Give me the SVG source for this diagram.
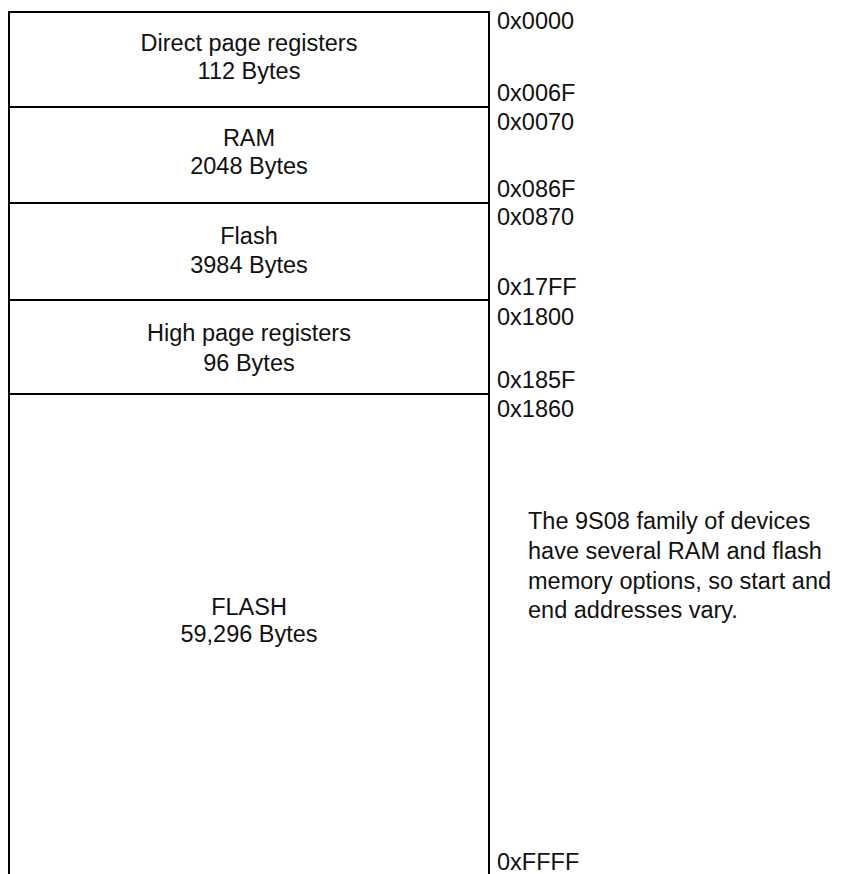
<svg xmlns="http://www.w3.org/2000/svg" width="842" height="874" viewBox="0 0 842 874">
<style>
.ln{stroke:#000;stroke-width:2;fill:none}
text{font-family:"Liberation Sans",Arial,Helvetica,sans-serif;font-size:23.5px;fill:#111}
.c{text-anchor:middle}
</style>
<rect width="842" height="874" fill="#fff"/>
<g id="frame">
<path class="ln" d="M9,875 V12 H489 V875"/>
</g>
<g id="connectors">
<line class="ln" x1="9" y1="107" x2="489" y2="107"/>
<line class="ln" x1="9" y1="203" x2="489" y2="203"/>
<line class="ln" x1="9" y1="300" x2="489" y2="300"/>
<line class="ln" x1="9" y1="394" x2="489" y2="394"/>
</g>
<g id="direct-page">
<text class="c" x="249" y="51">Direct page registers</text>
<text class="c" x="249" y="79">112 Bytes</text>
</g>
<g id="ram">
<text class="c" x="249" y="146">RAM</text>
<text class="c" x="249" y="174">2048 Bytes</text>
</g>
<g id="flash-small">
<text class="c" x="249" y="244">Flash</text>
<text class="c" x="249" y="273">3984 Bytes</text>
</g>
<g id="high-page">
<text class="c" x="249" y="341">High page registers</text>
<text class="c" x="249" y="371">96 Bytes</text>
</g>
<g id="flash-big">
<text class="c" x="249" y="615">FLASH</text>
<text class="c" x="249" y="642">59,296 Bytes</text>
</g>
<g id="addresses">
<text x="497" y="29">0x0000</text>
<text x="497" y="101">0x006F</text>
<text x="497" y="130">0x0070</text>
<text x="497" y="197">0x086F</text>
<text x="497" y="225">0x0870</text>
<text x="497" y="295">0x17FF</text>
<text x="497" y="325">0x1800</text>
<text x="497" y="388">0x185F</text>
<text x="497" y="417">0x1860</text>
<text x="497" y="870">0xFFFF</text>
</g>
<g id="note">
<text x="528" y="529">The 9S08 family of devices</text>
<text x="528" y="559">have several RAM and flash</text>
<text x="528" y="589">memory options, so start and</text>
<text x="528" y="618">end addresses vary.</text>
</g>
</svg>
